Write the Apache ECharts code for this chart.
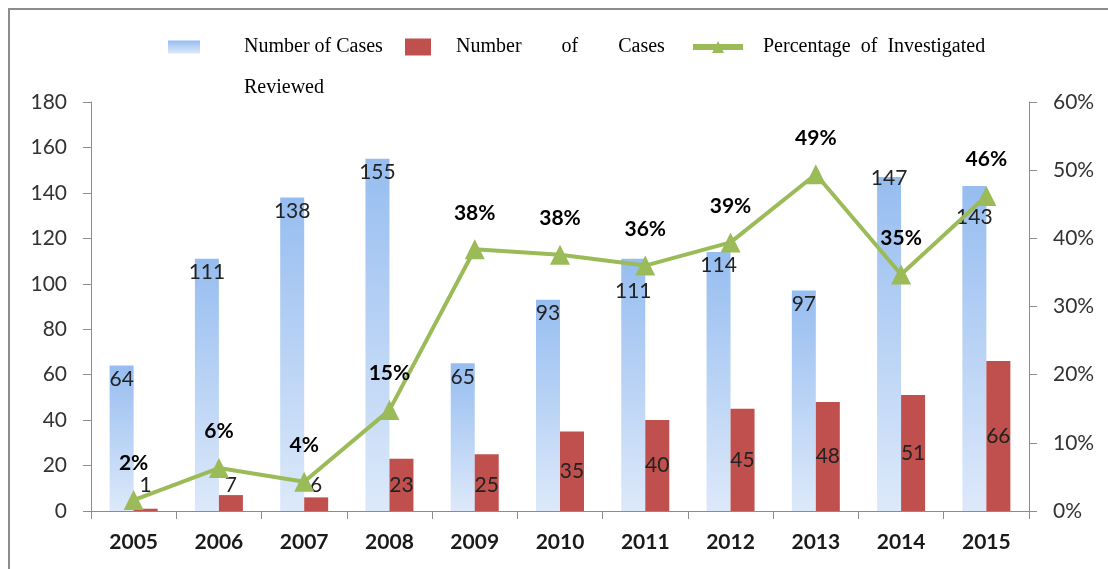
<!DOCTYPE html>
<html>
<head>
<meta charset="utf-8">
<script src="https://cdn.jsdelivr.net/npm/echarts@6/dist/echarts.min.js"></script>
<style>
html, body { margin: 0; padding: 0; background: #fff; }
#chart { width: 1108px; height: 569px; }
</style>
</head>
<body>
<div id="chart"></div>
<script>
// data
var years = ['2005', '2006', '2007', '2008', '2009', '2010', '2011', '2012', '2013', '2014', '2015'];
var casesReviewed = [64, 111, 138, 155, 65, 93, 111, 114, 97, 147, 143];
var casesInvestigated = [1, 7, 6, 23, 25, 35, 40, 45, 48, 51, 66];
var pctInvestigated = [1.6, 6.3, 4.3, 14.8, 38.4, 37.6, 36.0, 39.4, 49.4, 34.7, 46.2];
var countAxis = { min: 0, max: 180, step: 20 };
var pctAxis = { min: 0, max: 60, step: 10 };

var numFont = 'Lato, "Open Sans", sans-serif';
var serifFont = '"Liberation Serif", "DejaVu Serif", serif';

// a few labels were moved by hand in the original
var reviewedLabelShift = { '2011': 19, '2014': -12, '2015': 18 };

var myChart = echarts.init(document.getElementById('chart'));

function legendBox(left, seriesName, text, w, h, pad, isLine) {
    var lg = {
        left: left,
        top: 37,
        padding: 0,
        itemWidth: w,
        itemHeight: h,
        selectedMode: false,
        data: [isLine ? { name: seriesName } : { name: seriesName, icon: 'rect' }],
        formatter: function () { return '{t|' + text + '}'; },
        textStyle: {
            rich: {
                t: { fontFamily: serifFont, fontSize: 20, color: '#000', lineHeight: 20, padding: [0, 0, 0, pad] }
            }
        }
    };
    if (isLine) {
        lg.lineStyle = { width: 6 };
    }
    return lg;
}

var option = {
    animation: false,
    backgroundColor: '#fff',
    grid: { left: 91, right: 79, top: 102, bottom: 58 },
    legend: [
        legendBox(168, 'Number of Cases Reviewed', 'Number of Cases', 32, 13, 39, false),
        legendBox(405, 'Number of Cases Investigated', 'Number        of        Cases', 26, 17, 20, false),
        legendBox(690, 'Percentage of Investigated', 'Percentage  of  Investigated', 50, 15, 15, true)
    ],
    graphic: [
        { type: 'line', shape: { x1: 9, y1: 9, x2: 9, y2: 569 }, style: { stroke: '#8c8c8c', lineWidth: 2 } },
        { type: 'line', shape: { x1: 8, y1: 9, x2: 1108, y2: 9 }, style: { stroke: '#8c8c8c', lineWidth: 2 } },
        { type: 'text', left: 244, top: 78, style: { text: 'Reviewed', font: '20px ' + serifFont, fill: '#000' } }
    ],
    xAxis: {
        type: 'category',
        data: years,
        axisLine: { lineStyle: { color: '#8c8c8c', width: 1 } },
        axisTick: { show: true, length: 8, lineStyle: { color: '#8c8c8c' } },
        axisLabel: { margin: 21, fontFamily: numFont, fontSize: 21, fontWeight: 'bold', color: '#1a1a1a' }
    },
    yAxis: [
        {
            type: 'value',
            min: countAxis.min, max: countAxis.max, interval: countAxis.step,
            axisLine: { show: true, lineStyle: { color: '#8c8c8c' } },
            axisTick: { show: true, length: 8, lineStyle: { color: '#8c8c8c' } },
            splitLine: { show: false },
            axisLabel: { margin: 24, fontFamily: numFont, fontSize: 21, color: '#333' }
        },
        {
            type: 'value',
            min: pctAxis.min, max: pctAxis.max, interval: pctAxis.step,
            position: 'right',
            axisLine: { show: true, lineStyle: { color: '#8c8c8c' } },
            axisTick: { show: true, length: 8, lineStyle: { color: '#8c8c8c' } },
            splitLine: { show: false },
            axisLabel: { margin: 24, formatter: '{value}%', fontFamily: numFont, fontSize: 21, color: '#333' }
        }
    ],
    series: [
        {
            name: 'Number of Cases Reviewed',
            type: 'bar',
            barWidth: 24,
            barGap: '0%',
            itemStyle: {
                color: new echarts.graphic.LinearGradient(0, 0, 0, 1, [
                    { offset: 0, color: '#96bdf0' },
                    { offset: 1, color: '#dde9fa' }
                ])
            },
            label: {
                show: true,
                position: 'insideTop',
                distance: 3,
                fontFamily: numFont,
                fontSize: 21,
                color: '#222'
            },
            data: casesReviewed.map(function (v, i) {
                var s = reviewedLabelShift[years[i]];
                return s ? { value: v, label: { offset: [0, s] } } : v;
            })
        },
        {
            name: 'Number of Cases Investigated',
            type: 'bar',
            barWidth: 24,
            itemStyle: { color: '#c0504d' },
            label: {
                show: true,
                position: 'inside',
                fontFamily: numFont,
                fontSize: 21,
                color: '#222'
            },
            data: casesInvestigated.map(function (v) {
                return v < 30 ? { value: v, label: { position: 'insideBottom', distance: 15 } } : v;
            })
        },
        {
            name: 'Percentage of Investigated',
            type: 'line',
            yAxisIndex: 1,
            symbol: 'triangle',
            symbolSize: 20,
            z: 5,
            lineStyle: { color: '#9bbb59', width: 4 },
            itemStyle: { color: '#9bbb59' },
            label: {
                show: true,
                position: 'top',
                distance: 16,
                fontFamily: numFont,
                fontSize: 21,
                fontWeight: 'bold',
                color: '#000',
                formatter: function (p) { return Math.round(p.value) + '%'; }
            },
            data: pctInvestigated
        }
    ]
};

myChart.setOption(option);
</script>
</body>
</html>
